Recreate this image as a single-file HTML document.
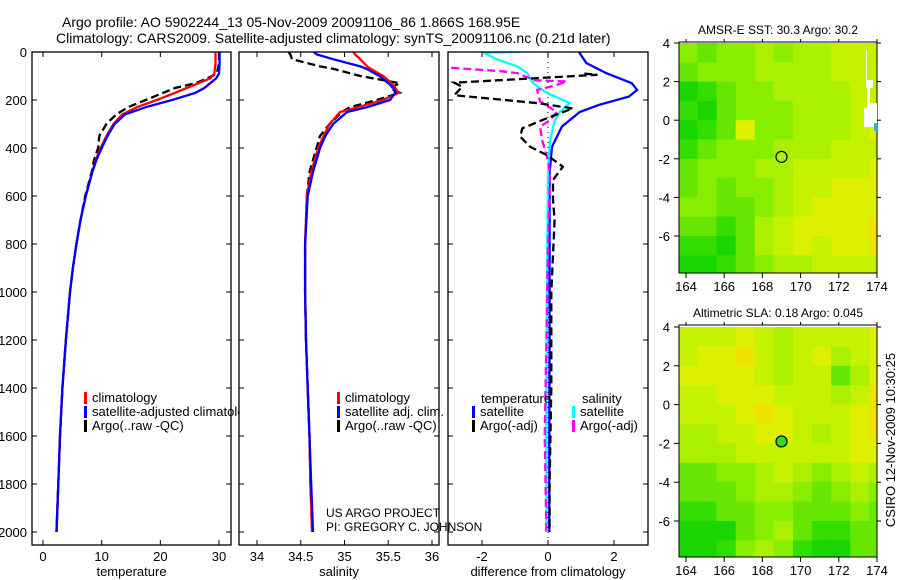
<!DOCTYPE html>
<html><head><meta charset="utf-8"><style>
html,body{margin:0;padding:0;background:#fff;}
svg{display:block;font-family:"Liberation Sans",sans-serif;}
</style></head><body>
<svg id="chart" width="900" height="580" viewBox="0 0 900 580" xmlns="http://www.w3.org/2000/svg">
<rect width="900" height="580" fill="#fff"/>
<text x="62" y="27" font-size="14">Argo profile: AO 5902244_13 05-Nov-2009 20091106_86 1.866S 168.95E</text>
<text x="56" y="43" font-size="14">Climatology: CARS2009. Satellite-adjusted climatology: synTS_20091106.nc (0.21d later)</text>
<g id="g"></g>
</svg>
<script>
// ---- data ----
const tempDepths=[0,50,90,110,130,150,170,200,230,260,300,350,400,450,500,600,700,800,900,1000,1200,1400,1600,1800,2000];
const tempClim=[29.4,29.4,29.2,28.5,26.5,24.5,22.5,19.4,16,13.5,12,10.8,9.8,9,8.4,7.3,6.4,5.7,5.1,4.6,3.9,3.3,2.9,2.6,2.3];
const tempSat=[30.1,30.1,30.0,29.5,28.5,27.5,26,22,17.5,14,12.2,11,10,9.1,8.4,7.3,6.4,5.7,5.1,4.6,3.9,3.3,2.9,2.6,2.3];
const tempArgo=[30,30,29.6,28,26,22.5,20.5,17.5,14.5,12.5,10.8,9.6,9.4,8.7,8.3,7.2,6.4,5.7,5.1,4.6,3.9,3.3,2.9,2.6,2.3];
const salDepths=[0,10,30,60,70,100,130,150,170,200,230,250,300,350,400,500,600,800,1000,1200,1400,1600,1800,2000];
const salClim=[35.1,35.12,35.18,35.26,35.3,35.44,35.54,35.58,35.62,35.44,35.15,34.95,34.83,34.76,34.7,34.62,34.57,34.55,34.55,34.56,34.58,34.6,34.61,34.63];
const salSat=[34.65,34.68,34.87,35.18,35.25,35.4,35.5,35.56,35.58,35.52,35.26,35.03,34.87,34.78,34.72,34.64,34.58,34.55,34.55,34.56,34.58,34.6,34.62,34.64];
const salArgo=[34.36,34.38,34.4,34.72,34.87,35.18,35.63,35.52,35.63,35.37,35.06,34.97,34.83,34.72,34.68,34.6,34.57,34.55,34.55,34.56,34.58,34.6,34.61,34.63];
const dTempSatDepths=[0,5,46,88,130,158,186,220,250,311,395,500,800,1200,1600,2000];
const dTempSat=[0.96,0.96,1.16,1.76,2.54,2.7,2.45,1.55,0.96,0.42,0.12,0.05,0.05,0.05,0.04,0.04];
const dSalSatDepths=[0,3,32,60,88,130,171,213,250,284,367,505,1000,1500,2000];
const dSalSat=[-0.85,-1.95,-1.52,-0.93,-0.63,-0.45,-0.03,0.66,0.36,0.21,0.06,0,-0.03,-0.05,-0.05];
const dSalArgoDepths=[66,80,88,118,123,140,158,206,250,284,311,367,436,505,800,1200,1600,2000];
const dSalArgo=[-2.93,-1.43,-0.93,-0.4,0.57,0.2,-0.33,-0.24,0.27,0.06,-0.24,-0.18,-0.03,0.06,0,-0.05,-0.1,-0.05];
const dTempArgoDepths=[90,95,128,145,180,213,235,276,318,353,395,430,478,533,616,700,1000,1400,1800,2000];
const dTempArgo=[1.1,1.5,-2.84,-2.6,-2.84,-0.33,0.75,-0.03,-0.78,-0.84,-0.54,-0.03,0.45,0.15,0.15,0.2,0.1,0.1,0.05,0.05];
const depthTicks=[0,200,400,600,800,1000,1200,1400,1600,1800,2000];
const tempTicks=[0,10,20,30];
const salTicks=[34,34.5,35,35.5,36];
const diffTicks=[-2,0,2];
const lonTicks=[164,166,168,170,172,174];
const latTicks=[4,2,0,-2,-4,-6];
const mapLats=[4,3,2,1,0,-1,-2,-3,-4,-5,-6,-7];
const mapLons=[163.6,164.6,165.6,166.6,167.6,168.6,169.6,170.6,171.6,172.6,173.6];
const sstGrid=[
[4,3,4,4,5,4,5,5,6,6,6],[3,4,4,4,5,5,5,5,6,6,6],[1,2,3,4,4,5,5,5,5,6,6],[2,1,3,4,4,4,5,5,5,6,6],
[1,2,3,7,4,4,5,5,5,6,7],[2,3,4,4,4,5,5,5,6,6,6],[3,4,4,4,5,5,6,6,6,6,7],[3,4,3,4,4,5,6,6,7,7,7],
[4,4,3,3,4,5,6,7,7,7,7],[3,3,2,3,5,6,7,7,7,7,8],[2,2,1,3,5,6,7,6,7,7,8],[1,1,2,3,4,5,5,6,6,6,6]];
const slaGrid=[
[6,6,6,7,6,5,6,6,6,6,7],[6,7,7,8,6,5,6,7,5,6,7],[7,7,7,7,6,5,6,6,3,5,7],[6,6,7,7,7,6,6,6,5,6,8],
[6,6,6,7,8,7,6,6,6,7,8],[5,5,6,6,7,7,6,5,6,7,8],[5,5,5,6,6,6,6,6,6,7,7],[3,3,4,4,5,6,5,4,5,6,5],
[3,3,3,4,5,5,4,3,4,5,4],[2,2,3,3,4,4,3,3,3,4,3],[1,1,1,3,4,5,3,2,2,3,3],[1,1,2,4,5,4,2,1,1,3,3]];
const argoLon=169.0, argoLat=-1.9;

// ---- helpers ----
const NS='http://www.w3.org/2000/svg';
const G=document.getElementById('g');
function mk(tag,attrs,parent){const e=document.createElementNS(NS,tag);for(const k in attrs)e.setAttribute(k,attrs[k]);(parent||G).appendChild(e);return e;}
const yD=d=>52+d*0.24;
function lin(v0,p0,v1,p1){return v=>p0+(v-v0)*(p1-p0)/(v1-v0);}
const xT=lin(0,43,30,219), xS=lin(34,257,36,432), xDf=lin(0,548,2,614);
const mx=lin(164,686,174,877);
const my1=lin(4,43,-6,236), my2=lin(4,327,-6,521);
const colors=['#00c800','#1ad600','#33dd00','#66e600','#88ee00','#aaf000','#c4f200','#dcf000','#eee200','#f5c800'];

function panel(name,x0,x1,xs,ticks,fmt,label){
  const p=mk('g',{});
  
  mk('rect',{x:x0,y:52,width:x1-x0,height:493,fill:'#fff'},p);
  depthTicks.forEach(d=>{
    mk('line',{x1:x0,x2:x0+5,y1:yD(d),y2:yD(d),stroke:'#000'},p);
    mk('line',{x1:x1-5,x2:x1,y1:yD(d),y2:yD(d),stroke:'#000'},p);
  });
  ticks.forEach(v=>{
    const t=mk('text',{x:xs(v),y:561,'font-size':13,'text-anchor':'middle'},p);t.textContent=fmt(v);
    
    mk('line',{x1:xs(v),x2:xs(v),y1:545,y2:540,stroke:'#000'},p);
    mk('line',{x1:xs(v),x2:xs(v),y1:52,y2:57,stroke:'#000'},p);
  });
  const l=mk('text',{x:(x0+x1)/2,y:576,'font-size':13,'text-anchor':'middle'},p);l.textContent=label;
  
  return p;
}
function line(depths,vals,xs,color,name,dash,clip){
  const pts=depths.map((d,i)=>xs(vals[i]).toFixed(1)+','+yD(d).toFixed(1)).join(' ');
  const a={points:pts,fill:'none',stroke:color,'stroke-width':2.3};
  if(dash)a['stroke-dasharray']=dash;
  if(clip)a['clip-path']=clip;
  const e=mk('polyline',a);
  
  
}
function frame(x0,x1){mk('rect',{x:x0,y:52,width:x1-x0,height:493,fill:'none',stroke:'#000','stroke-width':1.3});}
function legend(x,y,items,name){
  items.forEach((it,i)=>{
    mk('rect',{x:x,y:y+i*14-10,width:3,height:12,fill:it[0]});
    const t=mk('text',{x:x+8,y:y+i*14,'font-size':13},G);t.textContent=it[1];
    
  });
}
const defs=mk('defs',{});
[['c1',32,231],['c2',239,439],['c3',448,648]].forEach(c=>{const cp=mk('clipPath',{id:c[0]},defs);mk('rect',{x:c[1],y:52,width:c[2]-c[1],height:493},cp);});

// y tick labels
depthTicks.forEach(d=>{const t=mk('text',{x:27,y:yD(d)+5,'font-size':13,'text-anchor':'end'});t.textContent=d;
  });

// panel 1 temperature
panel('temperature',32,231,xT,tempTicks,v=>v,'temperature');
line(tempDepths,tempArgo,xT,'#000','temp-argo-line','8,4','url(#c1)');
line(tempDepths,tempClim,xT,'#ff0000','temp-climatology-line',null,'url(#c1)');
line(tempDepths,tempSat,xT,'#0000ff','temp-satellite-line',null,'url(#c1)');
legend(84,402,[['#f00','climatology'],['#00f','satellite-adjusted climatology'],['#000','Argo(..raw -QC)']],'temp-legend');

// panel 2 salinity
panel('salinity',239,439,xS,salTicks,v=>v,'salinity');
line(salDepths,salArgo,xS,'#000','sal-argo-line','8,4','url(#c2)');
line(salDepths,salClim,xS,'#ff0000','sal-climatology-line',null,'url(#c2)');
line(salDepths,salSat,xS,'#0000ff','sal-satellite-line',null,'url(#c2)');
legend(337,402,[['#f00','climatology'],['#00f','satellite adj. clim.'],['#000','Argo(..raw -QC)']],'sal-legend');

// panel 3 difference
panel('difference',448,648,xDf,diffTicks,v=>v,'difference from climatology');
mk('line',{x1:xDf(0),x2:xDf(0),y1:52,y2:545,stroke:'#000','stroke-dasharray':'1,4'});
line(dTempSatDepths,dTempSat,xDf,'#0000ff','diff-temp-satellite-line',null,'url(#c3)');
line(dSalSatDepths,dSalSat,xDf,'#00ffff','diff-sal-satellite-line',null,'url(#c3)');
line(dSalArgoDepths,dSalArgo,xDf,'#ff00ff','diff-sal-argo-line','8,4','url(#c3)');
line(dTempArgoDepths,dTempArgo,xDf,'#000','diff-temp-argo-line','8,4','url(#c3)');
{const t=mk('text',{x:481,y:403,'font-size':13});t.textContent='temperature';
 const s=mk('text',{x:582,y:403,'font-size':13});s.textContent='salinity';}
legend(472,416,[['#00f','satellite'],['#000','Argo(-adj)']],'diff-temp-legend');
legend(572,416,[['#0ff','satellite'],['#f0f','Argo(-adj)']],'diff-sal-legend');

[[32,231],[239,439],[448,648]].forEach(p=>frame(p[0],p[1]));
{const t=mk('text',{x:326,y:517,'font-size':12});t.textContent='US ARGO PROJECT';
 const u=mk('text',{x:326,y:531,'font-size':12});u.textContent='PI: GREGORY C. JOHNSON';}

// maps
function map(name,grid,my,title,ty,top,bottom,filled){
  const g=mk('g',{});
  grid.forEach((row,r)=>row.forEach((v,c)=>{
    const x0=Math.max(679,mx(mapLons[c])),x1=Math.min(877,mx(mapLons[c]+1));
    const y0=Math.max(top,my(mapLats[r])),y1=Math.min(bottom,my(mapLats[r]-1));
    const cell=mk('rect',{x:x0,y:y0,width:x1-x0+0.5,height:y1-y0+0.5,fill:colors[v]},g);
    
    
  }));
  mk('rect',{x:679,y:top,width:198,height:bottom-top,fill:'none',stroke:'#000'},g);
  lonTicks.forEach(v=>{mk('line',{x1:mx(v),x2:mx(v),y1:bottom,y2:bottom+5,stroke:'#000'},g);mk('line',{x1:mx(v),x2:mx(v),y1:top,y2:top-3,stroke:'#000'},g);
    const t=mk('text',{x:mx(v),y:bottom+18,'font-size':13,'text-anchor':'middle'},g);t.textContent=v;});
  latTicks.forEach(v=>{mk('line',{x1:674,x2:679,y1:my(v),y2:my(v),stroke:'#000'},g);mk('line',{x1:877,x2:881,y1:my(v),y2:my(v),stroke:'#000'},g);
    const t=mk('text',{x:670,y:my(v)+5,'font-size':13,'text-anchor':'end'},g);t.textContent=v;});
  const t=mk('text',{x:778,y:ty,'font-size':12,'text-anchor':'middle'},g);t.textContent=title;
  
  const c=mk('circle',{cx:mx(argoLon),cy:my(argoLat),r:5.5,fill:filled?'#33dd00':'none',stroke:'#000','stroke-width':1.2},g);
  
  return g;
}
const m1=map('sst-map',sstGrid,my1,'AMSR-E SST: 30.3 Argo: 30.2',34,42,273,false);
mk('path',{d:'M850 50 H867 V80 H873 V88 H867 V108 H864 V127 H877 V103 H870 V88 H866 V50 Z',fill:'#fff'},m1);
mk('rect',{x:874,y:123,width:3,height:8,fill:'#22bbdd'},m1);
map('sla-map',slaGrid,my2,'Altimetric SLA: 0.18 Argo: 0.045',317,325,557,true);
{const t=mk('text',{x:0,y:0,'font-size':13,'text-anchor':'middle',transform:'translate(895,440) rotate(-90)'});t.textContent='CSIRO 12-Nov-2009 10:30:25';
 }
</script>
</body></html>
